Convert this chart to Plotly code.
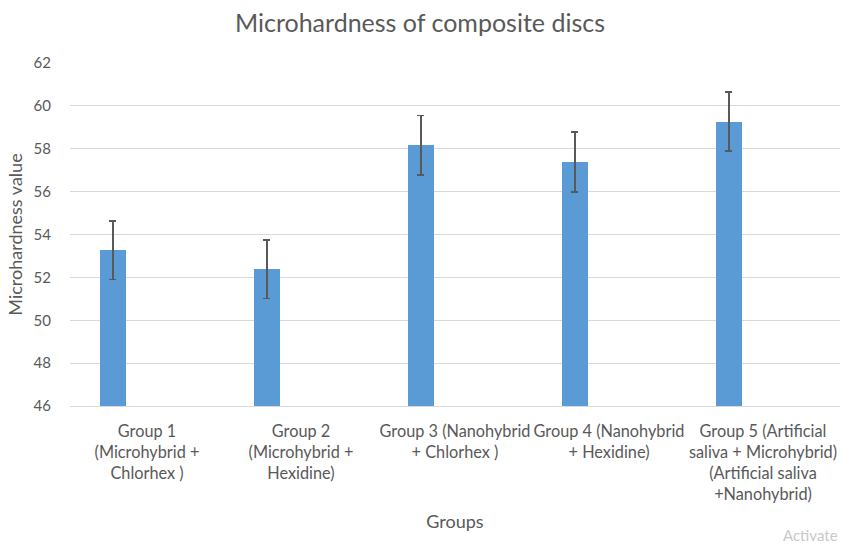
import plotly.graph_objects as go

categories = [
    "Group 1<br>(Microhybrid +<br>Chlorhex )",
    "Group 2<br>(Microhybrid +<br>Hexidine)",
    "Group 3 (Nanohybrid<br>+ Chlorhex )",
    "Group 4 (Nanohybrid<br>+ Hexidine)",
    "Group 5 (Artificial<br>saliva + Microhybrid)<br>(Artificial saliva<br>+Nanohybrid)",
]
means = [53.27, 52.38, 58.16, 57.38, 59.27]
errors = [1.36, 1.36, 1.39, 1.39, 1.38]
y_ticks = [46, 48, 50, 52, 54, 56, 58, 60, 62]

FONT = "Lato"
GREY = "#595959"

fig = go.Figure()
fig.add_trace(go.Bar(
    x=categories, y=means,
    width=0.169, offset=-0.306,
    marker=dict(color="#5B9BD5", line=dict(width=0)),
    error_y=dict(type="data", array=errors, visible=True,
                 color="#595959", thickness=1.6, width=3.5),
    showlegend=False,
))

fig.update_layout(
    width=845, height=550,
    margin=dict(l=70, r=5, t=63, b=144, autoexpand=False),
    paper_bgcolor="white", plot_bgcolor="white",
    font=dict(family=FONT, color=GREY, size=14),
    title=dict(text="Microhardness of composite discs", x=0.497, xref="container",
               xanchor="center", y=0.958, yref="container", yanchor="middle",
               font=dict(family=FONT, size=25, color=GREY)),
    xaxis=dict(
        type="category", range=[-0.5, 4.5], automargin=False,
        showgrid=False, showline=True, linecolor="#d9d9d9", linewidth=1,
        ticks="", tickfont=dict(size=16.3, color=GREY),
        ticklabelstandoff=10,
        title=dict(text="Groups", font=dict(size=18, color=GREY), standoff=13),
    ),
    yaxis=dict(
        range=[46, 62], tickvals=y_ticks, showgrid=True, gridcolor="#d9d9d9",
        gridwidth=1, zeroline=False, showline=False, ticks="", automargin=False,
        tickfont=dict(size=15, color=GREY), ticklabelstandoff=18,
        title=dict(text="Microhardness value", font=dict(size=18, color=GREY),
                   standoff=6),
    ),
    bargap=0,
)

fig.add_annotation(
    text="Activate", xref="paper", yref="paper", x=0.924, y=-0.375,
    xanchor="left", yanchor="middle", showarrow=False,
    font=dict(family=FONT, size=15, color="#c8c8c8"),
)

fig.write_html(
    "out.html",
    config={"displayModeBar": False},
    post_script="document.body.style.margin='0px';document.body.style.overflow='hidden';",
)
